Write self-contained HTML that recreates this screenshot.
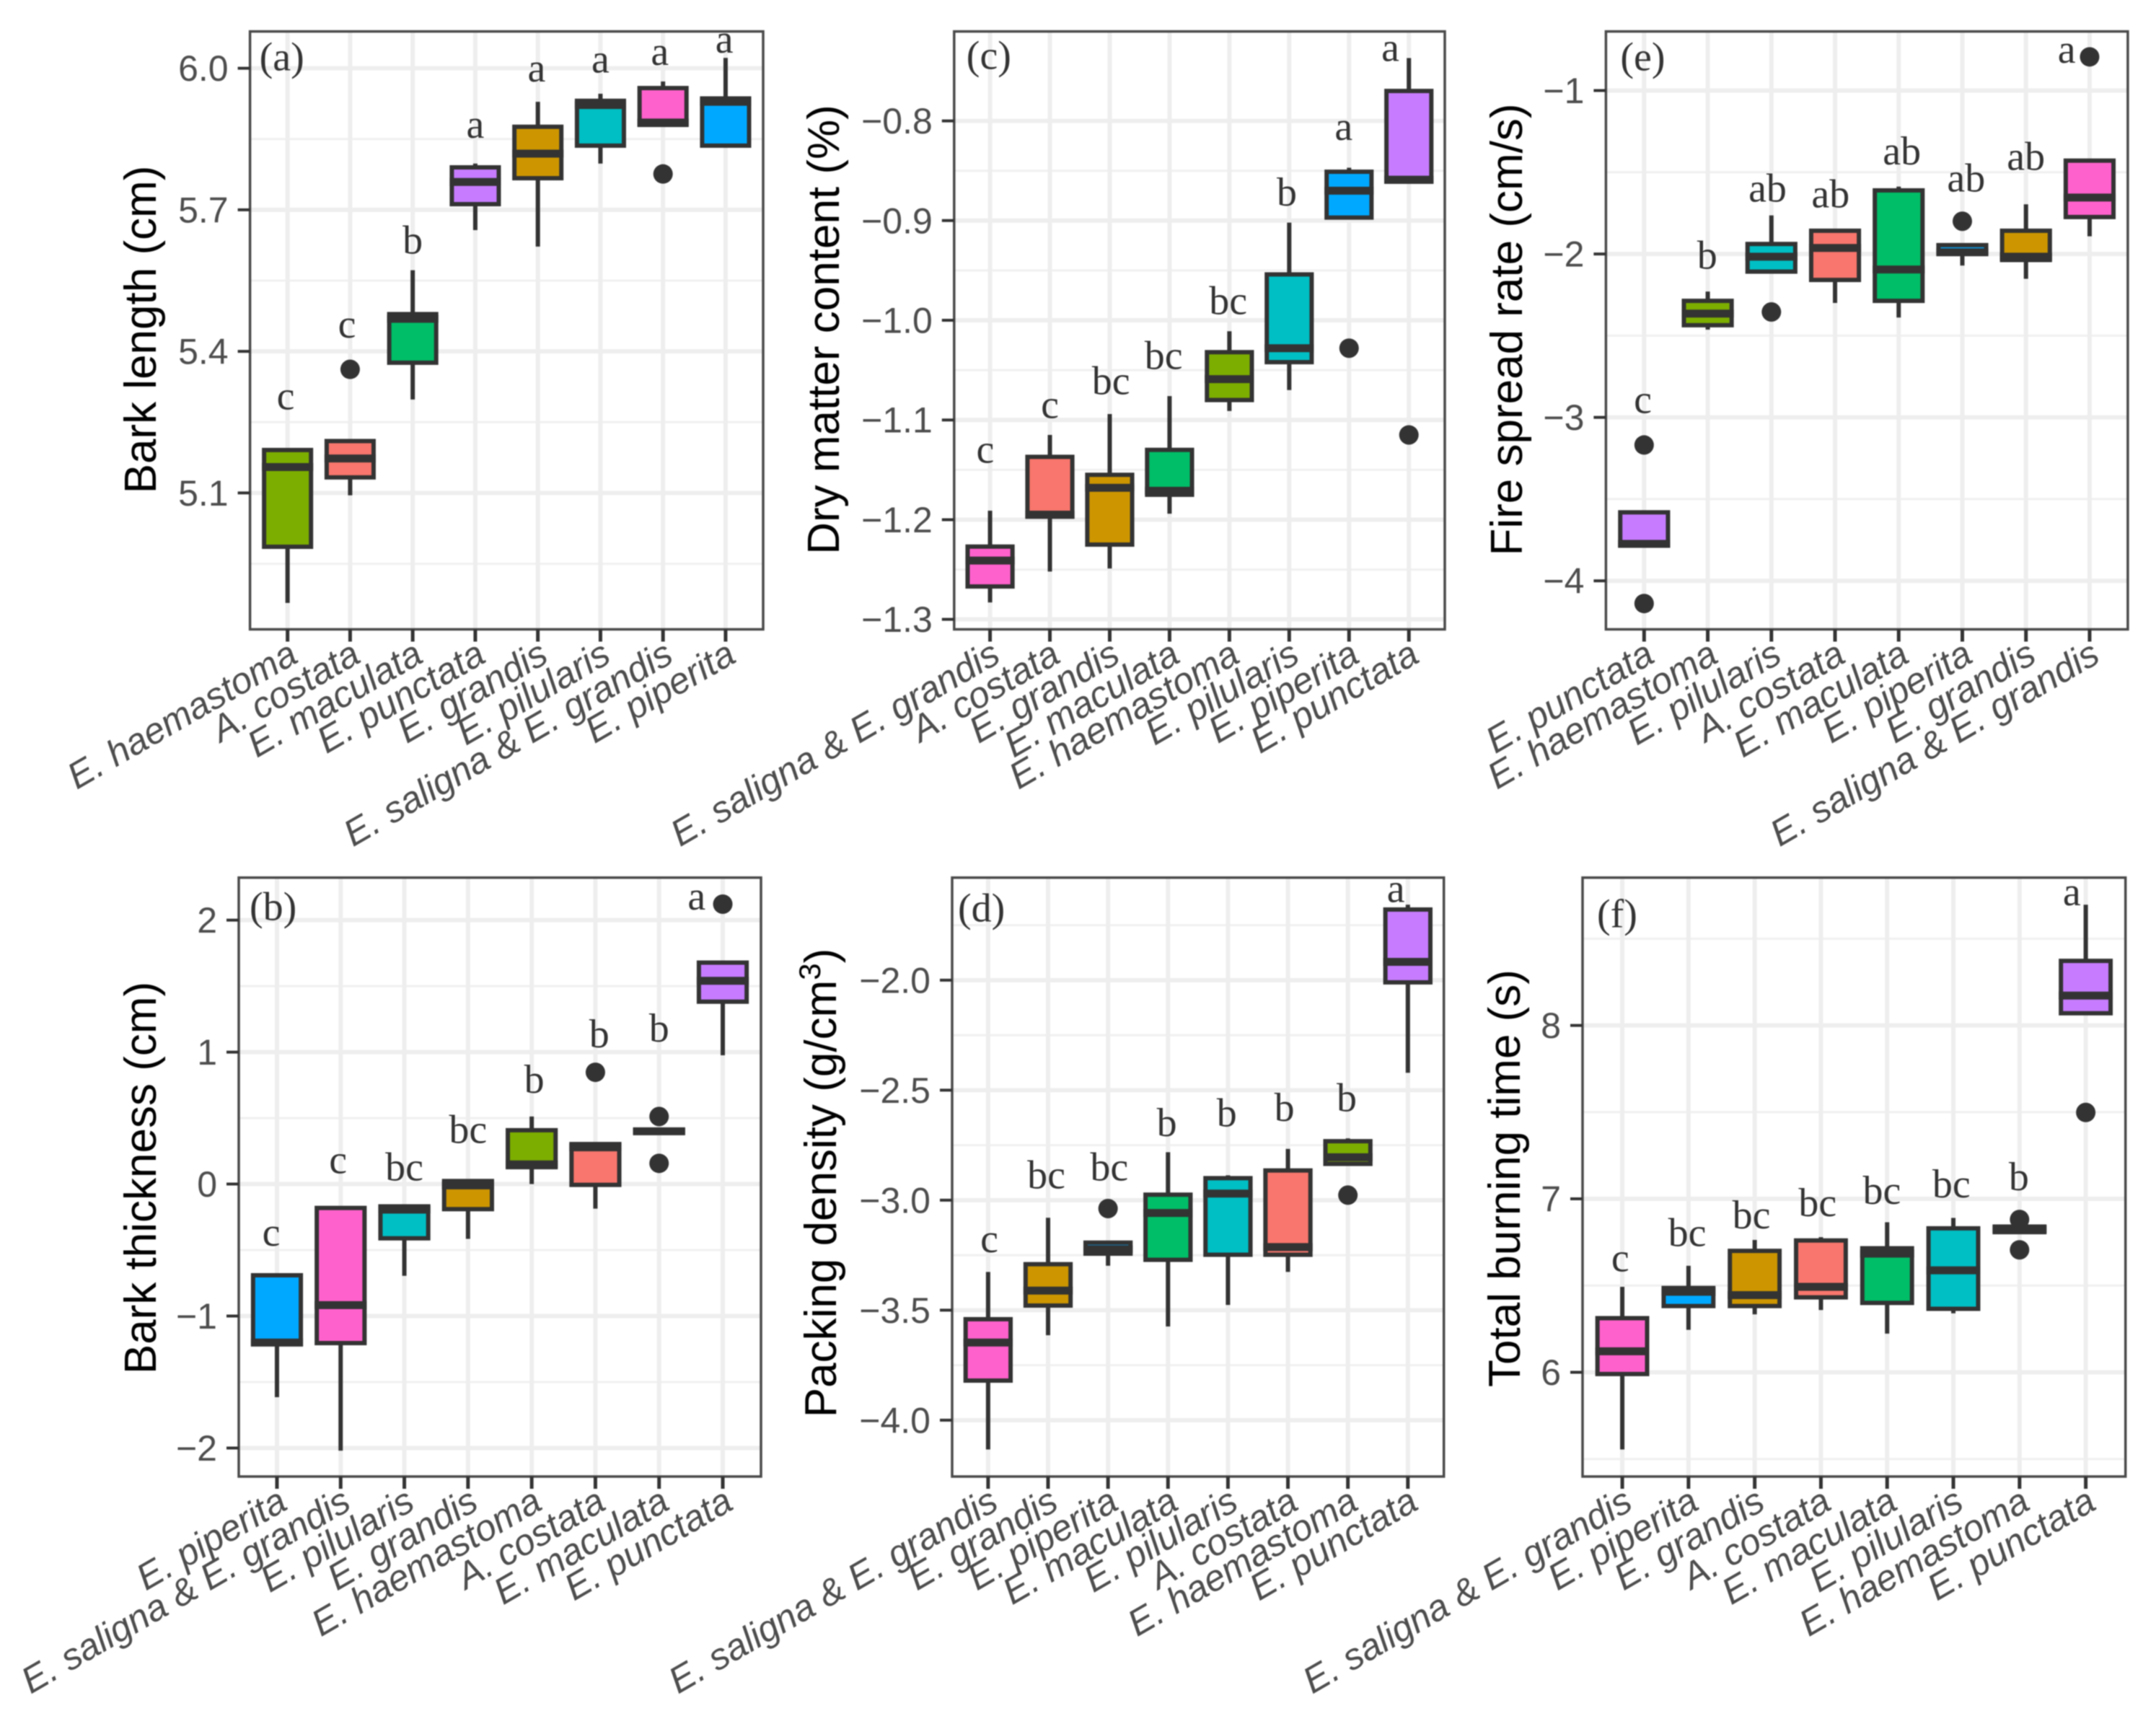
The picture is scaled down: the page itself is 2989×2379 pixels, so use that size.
<!DOCTYPE html>
<html lang="en">
<head>
<meta charset="utf-8">
<title>Bark and fire behaviour boxplots by species</title>
<style>
html,body{margin:0;padding:0;background:#fff;}
svg{display:block;filter:blur(0.7px);}
</style>
</head>
<body>
<svg id="figure" xmlns="http://www.w3.org/2000/svg" width="2989" height="2379" viewBox="0 0 2989 2379"></svg>
<script>
/* ---------- species colours ---------- */
const speciesNames = ["A. costata","E. grandis","E. haemastoma","E. maculata","E. pilularis","E. piperita","E. punctata","E. saligna & E. grandis"];
const speciesColors = ["#F8766D","#CD9600","#7CAE00","#00BE67","#00BFC4","#00A9FF","#C77CFF","#FF61CC"];

/* ---------- panel (a) bark length ---------- */
const aCategories = ["E. haemastoma","A. costata","E. maculata","E. punctata","E. grandis","E. pilularis","E. saligna & E. grandis","E. piperita"];
const aWhiskerHigh = [5.191,5.21,5.572,5.798,5.929,5.946,5.972,6.022];
const aQ3 = [5.191,5.21,5.479,5.79,5.876,5.931,5.958,5.936];
const aMedian = [5.155,5.173,5.469,5.759,5.819,5.922,5.885,5.929];
const aQ1 = [4.986,5.133,5.376,5.712,5.767,5.836,5.88,5.836];
const aWhiskerLow = [4.867,5.095,5.298,5.657,5.622,5.798,5.88,5.836];
const aOutliers = [[],[5.362],[],[],[],[],[5.776],[]];
const aLetters = ["c","c","b","a","a","a","a","a"];
const aLetterValues = [5.277,5.429,5.607,5.853,5.972,5.991,6.007,6.033];
const aLetterNudge = [-0.03,-0.05,0,0,-0.02,0,-0.05,-0.02];
const aTicks = [5.1,5.4,5.7,6.0];
const aTickLabels = ["5.1","5.4","5.7","6.0"];
const aMinorTicks = [4.95,5.25,5.55,5.85];
const aDomain = [4.811,6.078];

/* ---------- panel (c) dry matter content ---------- */
const cCategories = ["E. saligna & E. grandis","A. costata","E. grandis","E. maculata","E. haemastoma","E. pilularis","E. piperita","E. punctata"];
const cWhiskerHigh = [-1.191,-1.115,-1.094,-1.076,-1.011,-0.902,-0.847,-0.737];
const cQ3 = [-1.227,-1.137,-1.155,-1.13,-1.032,-0.954,-0.851,-0.77];
const cMedian = [-1.241,-1.195,-1.168,-1.171,-1.059,-1.028,-0.87,-0.859];
const cQ1 = [-1.267,-1.197,-1.225,-1.175,-1.08,-1.042,-0.897,-0.861];
const cWhiskerLow = [-1.283,-1.252,-1.249,-1.194,-1.091,-1.07,-0.897,-0.861];
const cOutliers = [[],[],[],[],[],[],[-1.028],[-1.115]];
const cLetters = ["c","c","bc","bc","bc","b","a","a"];
const cLetterValues = [-1.143,-1.098,-1.074,-1.049,-0.994,-0.885,-0.819,-0.74];
const cLetterNudge = [-0.08,0,0.02,-0.1,-0.02,-0.04,-0.09,-0.31];
const cTicks = [-1.3,-1.2,-1.1,-1.0,-0.9,-0.8];
const cTickLabels = ["\u22121.3","\u22121.2","\u22121.1","\u22121.0","\u22120.9","\u22120.8"];
const cMinorTicks = [-1.25,-1.15,-1.05,-0.95,-0.85];
const cDomain = [-1.31,-0.7103];

/* ---------- panel (e) fire spread rate ---------- */
const eCategories = ["E. punctata","E. haemastoma","E. pilularis","A. costata","E. maculata","E. piperita","E. grandis","E. saligna & E. grandis"];
const eWhiskerHigh = [-3.581,-2.23,-1.764,-1.858,-1.588,-1.946,-1.696,-1.429];
const eQ3 = [-3.581,-2.287,-1.939,-1.858,-1.611,-1.946,-1.858,-1.429];
const eMedian = [-3.774,-2.365,-2.017,-1.963,-2.095,-1.99,-2.017,-1.655];
const eQ1 = [-3.784,-2.436,-2.108,-2.159,-2.287,-1.99,-2.037,-1.774];
const eWhiskerLow = [-3.784,-2.463,-2.108,-2.30,-2.389,-2.071,-2.152,-1.892];
const eOutliers = [[-3.169,-4.139],[],[-2.355],[],[],[-1.80],[],[-0.794]];
const eLetters = ["c","b","ab","ab","ab","ab","ab","a"];
const eLetterValues = [-2.973,-2.091,-1.679,-1.716,-1.453,-1.618,-1.486,-0.831];
const eLetterNudge = [-0.02,-0.01,-0.06,-0.07,0.05,0.06,0,-0.36];
const eTicks = [-4,-3,-2,-1];
const eTickLabels = ["\u22124","\u22123","\u22122","\u22121"];
const eMinorTicks = [-3.5,-2.5,-1.5];
const eDomain = [-4.297,-0.6385];

/* ---------- panel (b) bark thickness ---------- */
const bCategories = ["E. piperita","E. saligna & E. grandis","E. pilularis","E. grandis","E. haemastoma","A. costata","E. maculata","E. punctata"];
const bWhiskerHigh = [-0.691,-0.181,-0.169,0.023,0.512,0.303,0.41,1.678];
const bQ3 = [-0.691,-0.181,-0.169,0.023,0.408,0.303,0.41,1.678];
const bMedian = [-1.201,-0.917,-0.194,-0.01,0.149,0.278,0.40,1.54];
const bQ1 = [-1.214,-1.205,-0.411,-0.19,0.128,-0.006,0.39,1.382];
const bWhiskerLow = [-1.615,-2.02,-0.695,-0.415,0,-0.186,0.39,0.976];
const bOutliers = [[],[],[],[],[],[0.847],[0.512,0.157],[2.121]];
const bLetters = ["c","c","bc","bc","b","b","b","a"];
const bLetterValues = [-0.466,0.082,0.028,0.312,0.692,1.035,1.081,2.079];
const bLetterNudge = [-0.09,-0.04,0,0,0.04,0.06,0,-0.41];
const bTicks = [-2,-1,0,1,2];
const bTickLabels = ["\u22122","\u22121","0","1","2"];
const bMinorTicks = [-1.5,-0.5,0.5,1.5];
const bDomain = [-2.216,2.322];

/* ---------- panel (d) packing density ---------- */
const dCategories = ["E. saligna & E. grandis","E. grandis","E. piperita","E. maculata","E. pilularis","A. costata","E. haemastoma","E. punctata"];
const dWhiskerHigh = [-3.326,-3.08,-3.193,-2.782,-2.887,-2.767,-2.719,-1.657];
const dQ3 = [-3.541,-3.291,-3.193,-2.975,-2.9,-2.865,-2.732,-1.679];
const dMedian = [-3.647,-3.411,-3.223,-3.058,-2.97,-3.213,-2.805,-1.917];
const dQ1 = [-3.82,-3.479,-3.243,-3.271,-3.248,-3.248,-2.835,-2.01];
const dWhiskerLow = [-4.133,-3.614,-3.298,-3.574,-3.476,-3.326,-2.835,-2.421];
const dOutliers = [[],[],[-3.038],[],[],[],[-2.977],[]];
const dLetters = ["c","bc","bc","b","b","b","b","a"];
const dLetterValues = [-3.236,-2.947,-2.91,-2.709,-2.664,-2.639,-2.596,-1.644];
const dLetterNudge = [0.02,-0.03,0.02,-0.02,-0.02,-0.06,-0.02,-0.2];
const dTicks = [-4,-3.5,-3,-2.5,-2];
const dTickLabels = ["\u22124.0","\u22123.5","\u22123.0","\u22122.5","\u22122.0"];
const dMinorTicks = [-3.75,-3.25,-2.75,-2.25,-1.75];
const dDomain = [-4.256,-1.534];

/* ---------- panel (f) total burning time ---------- */
const fCategories = ["E. saligna & E. grandis","E. piperita","E. grandis","A. costata","E. maculata","E. pilularis","E. haemastoma","E. punctata"];
const fWhiskerHigh = [6.493,6.614,6.763,6.779,6.865,6.89,6.84,8.696];
const fQ3 = [6.312,6.486,6.7,6.76,6.715,6.83,6.84,8.372];
const fMedian = [6.121,6.464,6.445,6.493,6.684,6.588,6.824,8.172];
const fQ1 = [5.99,6.382,6.382,6.432,6.4,6.366,6.808,8.07];
const fWhiskerLow = [5.555,6.245,6.334,6.359,6.223,6.34,6.808,8.07];
const fOutliers = [[],[],[],[],[],[],[6.881,6.706],[7.498]];
const fLetters = ["c","bc","bc","bc","bc","bc","b","a"];
const fLetterValues = [6.582,6.728,6.83,6.9,6.97,7.008,7.049,8.693];
const fLetterNudge = [-0.03,-0.02,-0.05,-0.05,-0.08,-0.03,-0.01,-0.21];
const fTicks = [6,7,8];
const fTickLabels = ["6","7","8"];
const fMinorTicks = [5.5,6.5,7.5,8.5];
const fDomain = [5.399,8.852];

/* ---------- page layout (pixels) ---------- */
const SVGNS = "http://www.w3.org/2000/svg";
const INK = "#333333";
const AXIS_TEXT = "#4d4d4d";
const SANS = '"Liberation Sans", sans-serif';
const SERIF = '"Liberation Serif", serif';

const panels = [
  {key:"a",tag:"(a)",title:["Bark length (cm)"],left:346.6,right:1058,top:43.6,bottom:872.5,tagX:13,tagY:54,titleX:216,titleY:457,
   cats:aCategories,whi:aWhiskerHigh,q3:aQ3,med:aMedian,q1:aQ1,wlo:aWhiskerLow,out:aOutliers,letters:aLetters,letterV:aLetterValues,nudge:aLetterNudge,ticks:aTicks,labels:aTickLabels,minor:aMinorTicks,domain:aDomain},
  {key:"c",tag:"(c)",title:["Dry matter content (%)"],left:1322.8,right:2003,top:43.6,bottom:872.5,tagX:17,tagY:52,titleX:1163,titleY:457,
   cats:cCategories,whi:cWhiskerHigh,q3:cQ3,med:cMedian,q1:cQ1,wlo:cWhiskerLow,out:cOutliers,letters:cLetters,letterV:cLetterValues,nudge:cLetterNudge,ticks:cTicks,labels:cTickLabels,minor:cMinorTicks,domain:cDomain},
  {key:"e",tag:"(e)",title:["Fire spread rate (cm/s)"],left:2226.4,right:2949.9,top:43.6,bottom:872.5,tagX:20,tagY:54,titleX:2110,titleY:457,
   cats:eCategories,whi:eWhiskerHigh,q3:eQ3,med:eMedian,q1:eQ1,wlo:eWhiskerLow,out:eOutliers,letters:eLetters,letterV:eLetterValues,nudge:eLetterNudge,ticks:eTicks,labels:eTickLabels,minor:eMinorTicks,domain:eDomain},
  {key:"b",tag:"(b)",title:["Bark thickness (cm)"],left:331,right:1055,top:1216.7,bottom:2047,tagX:15,tagY:59,titleX:216,titleY:1633,
   cats:bCategories,whi:bWhiskerHigh,q3:bQ3,med:bMedian,q1:bQ1,wlo:bWhiskerLow,out:bOutliers,letters:bLetters,letterV:bLetterValues,nudge:bLetterNudge,ticks:bTicks,labels:bTickLabels,minor:bMinorTicks,domain:bDomain},
  {key:"d",tag:"(d)",title:["Packing density (g/cm","3",")"],left:1320,right:2001.7,top:1216.7,bottom:2047,tagX:8,tagY:61,titleX:1159,titleY:1640,
   cats:dCategories,whi:dWhiskerHigh,q3:dQ3,med:dMedian,q1:dQ1,wlo:dWhiskerLow,out:dOutliers,letters:dLetters,letterV:dLetterValues,nudge:dLetterNudge,ticks:dTicks,labels:dTickLabels,minor:dMinorTicks,domain:dDomain},
  {key:"f",tag:"(f)",title:["Total burning time (s)"],left:2194,right:2946.7,top:1216.7,bottom:2047,tagX:20,tagY:69,titleX:2107,titleY:1633.5,
   cats:fCategories,whi:fWhiskerHigh,q3:fQ3,med:fMedian,q1:fQ1,wlo:fWhiskerLow,out:fOutliers,letters:fLetters,letterV:fLetterValues,nudge:fLetterNudge,ticks:fTicks,labels:fTickLabels,minor:fMinorTicks,domain:fDomain}
];

const root = document.getElementById("figure");

function make(tag, attrs, parent){
  const el = document.createElementNS(SVGNS, tag);
  for (const k in attrs) el.setAttribute(k, attrs[k]);
  parent.appendChild(el);
  return el;
}

function drawPanel(p){
  const group = make("g", {}, root);
  
  

  const n = p.cats.length;
  const unit = (p.right - p.left) / (n - 1 + 1.2);
  const x = i => p.left + (i + 0.6) * unit;
  const y = v => p.bottom - (v - p.domain[0]) / (p.domain[1] - p.domain[0]) * (p.bottom - p.top);
  const boxW = unit * 0.75;

  /* background */
  const bg = make("rect", {x:p.left,y:p.top,width:p.right-p.left,height:p.bottom-p.top,fill:"#ffffff"}, group);
  
  

  /* gridlines */
  p.minor.forEach(v => {
    const l = make("line", {x1:p.left,x2:p.right,y1:y(v),y2:y(v),stroke:"#f0f0f0","stroke-width":3}, group);
    
    
  });
  p.ticks.forEach(v => {
    const l = make("line", {x1:p.left,x2:p.right,y1:y(v),y2:y(v),stroke:"#eeeeee","stroke-width":6}, group);
    
    
  });
  p.cats.forEach((c,i) => {
    const l = make("line", {x1:x(i),x2:x(i),y1:p.top,y2:p.bottom,stroke:"#eeeeee","stroke-width":6}, group);
    
    
  });

  /* boxes */
  p.cats.forEach((c,i) => {
    const color = speciesColors[speciesNames.indexOf(c)];
    const g = make("g", {}, group);
    
    

    const wh = make("line", {x1:x(i),x2:x(i),y1:y(p.whi[i]),y2:y(p.q3[i]),stroke:INK,"stroke-width":6}, g);
    
    

    const wl = make("line", {x1:x(i),x2:x(i),y1:y(p.q1[i]),y2:y(p.wlo[i]),stroke:INK,"stroke-width":6}, g);
    
    

    const box = make("rect", {x:x(i)-boxW/2,y:y(p.q3[i]),width:boxW,height:Math.max(0.5,y(p.q1[i])-y(p.q3[i])),fill:color,stroke:INK,"stroke-width":6}, g);
    
    

    const med = make("line", {x1:x(i)-boxW/2-3,x2:x(i)+boxW/2+3,y1:y(p.med[i]),y2:y(p.med[i]),stroke:INK,"stroke-width":11}, g);
    
    

    p.out[i].forEach(v => {
      const o = make("circle", {cx:x(i),cy:y(v),r:13.5,fill:INK}, g);
      
      
    });

    const t = make("text", {x:x(i)+p.nudge[i]*unit,y:y(p.letterV[i]),"text-anchor":"middle","font-family":SERIF,"font-size":56,fill:"#333333"}, g);
    t.textContent = p.letters[i];
    
    
  });

  /* panel tag */
  const tag = make("text", {x:p.left+p.tagX,y:p.top+p.tagY,"font-family":SERIF,"font-size":56,fill:"#333333"}, group);
  tag.textContent = p.tag;
  
  

  /* border */
  const border = make("rect", {x:p.left,y:p.top,width:p.right-p.left,height:p.bottom-p.top,fill:"none",stroke:"#4a4a4a","stroke-width":3.5}, group);
  
  

  /* y axis */
  p.ticks.forEach((v,i) => {
    const tk = make("line", {x1:p.left-17,x2:p.left,y1:y(v),y2:y(v),stroke:INK,"stroke-width":4}, group);
    
    
    const lb = make("text", {x:p.left-30,y:y(v)+17.5,"text-anchor":"end","font-family":SANS,"font-size":50,fill:AXIS_TEXT}, group);
    lb.textContent = p.labels[i];
    
    
  });

  /* x axis */
  p.cats.forEach((c,i) => {
    const tk = make("line", {x1:x(i),x2:x(i),y1:p.bottom,y2:p.bottom+17,stroke:INK,"stroke-width":5}, group);
    
    
    const lb = make("text", {transform:"translate("+(x(i)+17)+" "+(p.bottom+44)+") rotate(-30)","text-anchor":"end","font-family":SANS,"font-style":"italic","font-size":51,fill:AXIS_TEXT}, group);
    lb.textContent = c;
    
    
  });

  /* y title */
  const title = make("text", {transform:"translate("+p.titleX+" "+p.titleY+") rotate(-90)","text-anchor":"middle","font-family":SANS,"font-size":62,fill:"#000000"}, group);
  
  
  if (p.title.length === 1) {
    title.textContent = p.title[0];
  } else {
    const s1 = make("tspan", {}, title);
    s1.textContent = p.title[0];
    const s2 = make("tspan", {dy:-22,"font-size":42}, title);
    s2.textContent = p.title[1];
    const s3 = make("tspan", {dy:22}, title);
    s3.textContent = p.title[2];
  }
}

panels.forEach(drawPanel);
</script>
</body>
</html>
